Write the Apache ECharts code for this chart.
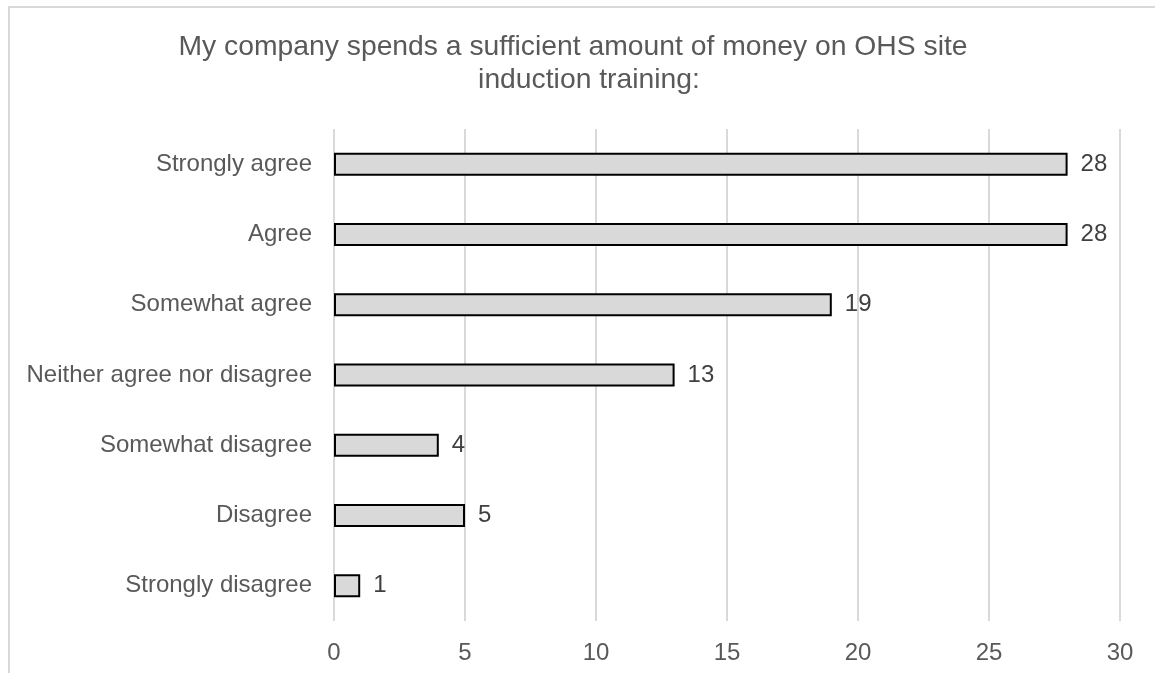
<!DOCTYPE html>
<html>
<head>
<meta charset="utf-8">
<script src="https://cdn.jsdelivr.net/npm/echarts@6/dist/echarts.min.js"></script>
<style>
  html, body { margin: 0; padding: 0; background: #fff; }
  #chart { width: 1155px; height: 673px; }
</style>
</head>
<body>
<div id="chart"></div>
<script>
// Survey responses, listed bottom-to-top as drawn on the category axis
const categories = [
  'Strongly disagree',
  'Disagree',
  'Somewhat disagree',
  'Neither agree nor disagree',
  'Somewhat agree',
  'Agree',
  'Strongly agree'
];
const counts = [1, 5, 4, 13, 19, 28, 28];
const xTicks = { min: 0, max: 30, interval: 5 };
const titleLines = [
  'My company spends a sufficient amount of money on OHS site',
  'induction training:'
];

const chart = echarts.init(document.getElementById('chart'), null, { renderer: 'canvas' });
const font = 'Liberation Sans, Arial, sans-serif';
const titleStyle = {
  fontFamily: font,
  fontSize: 28.3,
  fontWeight: 'normal',
  color: '#595959'
};

chart.setOption({
  animation: false,
  backgroundColor: '#ffffff',
  graphic: [{
    type: 'rect',
    z: -1,
    shape: { x: 9, y: 7, width: 1300, height: 800 },
    style: { fill: 'transparent', stroke: '#d9d9d9', lineWidth: 2 }
  }],
  title: [
    { text: titleLines[0], left: 573, top: 33, textAlign: 'center', padding: 0, textStyle: titleStyle },
    { text: titleLines[1], left: 589, top: 66, textAlign: 'center', padding: 0, textStyle: titleStyle }
  ],
  grid: { left: 334, right: 35, top: 129, bottom: 52, containLabel: false },
  xAxis: {
    type: 'value',
    min: xTicks.min,
    max: xTicks.max,
    interval: xTicks.interval,
    axisLine: { show: false },
    axisTick: { show: false },
    splitLine: { show: true, lineStyle: { color: '#d9d9d9', width: 2 } },
    axisLabel: { fontFamily: font, fontSize: 24, color: '#595959', margin: 20 }
  },
  yAxis: {
    type: 'category',
    data: categories,
    axisLine: { show: false },
    axisTick: { show: false },
    axisLabel: { fontFamily: font, fontSize: 24, color: '#595959', margin: 22 }
  },
  series: [{
    type: 'bar',
    data: counts,
    barWidth: 23,
    itemStyle: { color: '#d9d9d9', borderColor: '#000000', borderWidth: 2 },
    label: {
      show: true,
      position: 'right',
      distance: 13,
      fontFamily: font,
      fontSize: 24,
      color: '#404040'
    }
  }]
});
</script>
</body>
</html>
